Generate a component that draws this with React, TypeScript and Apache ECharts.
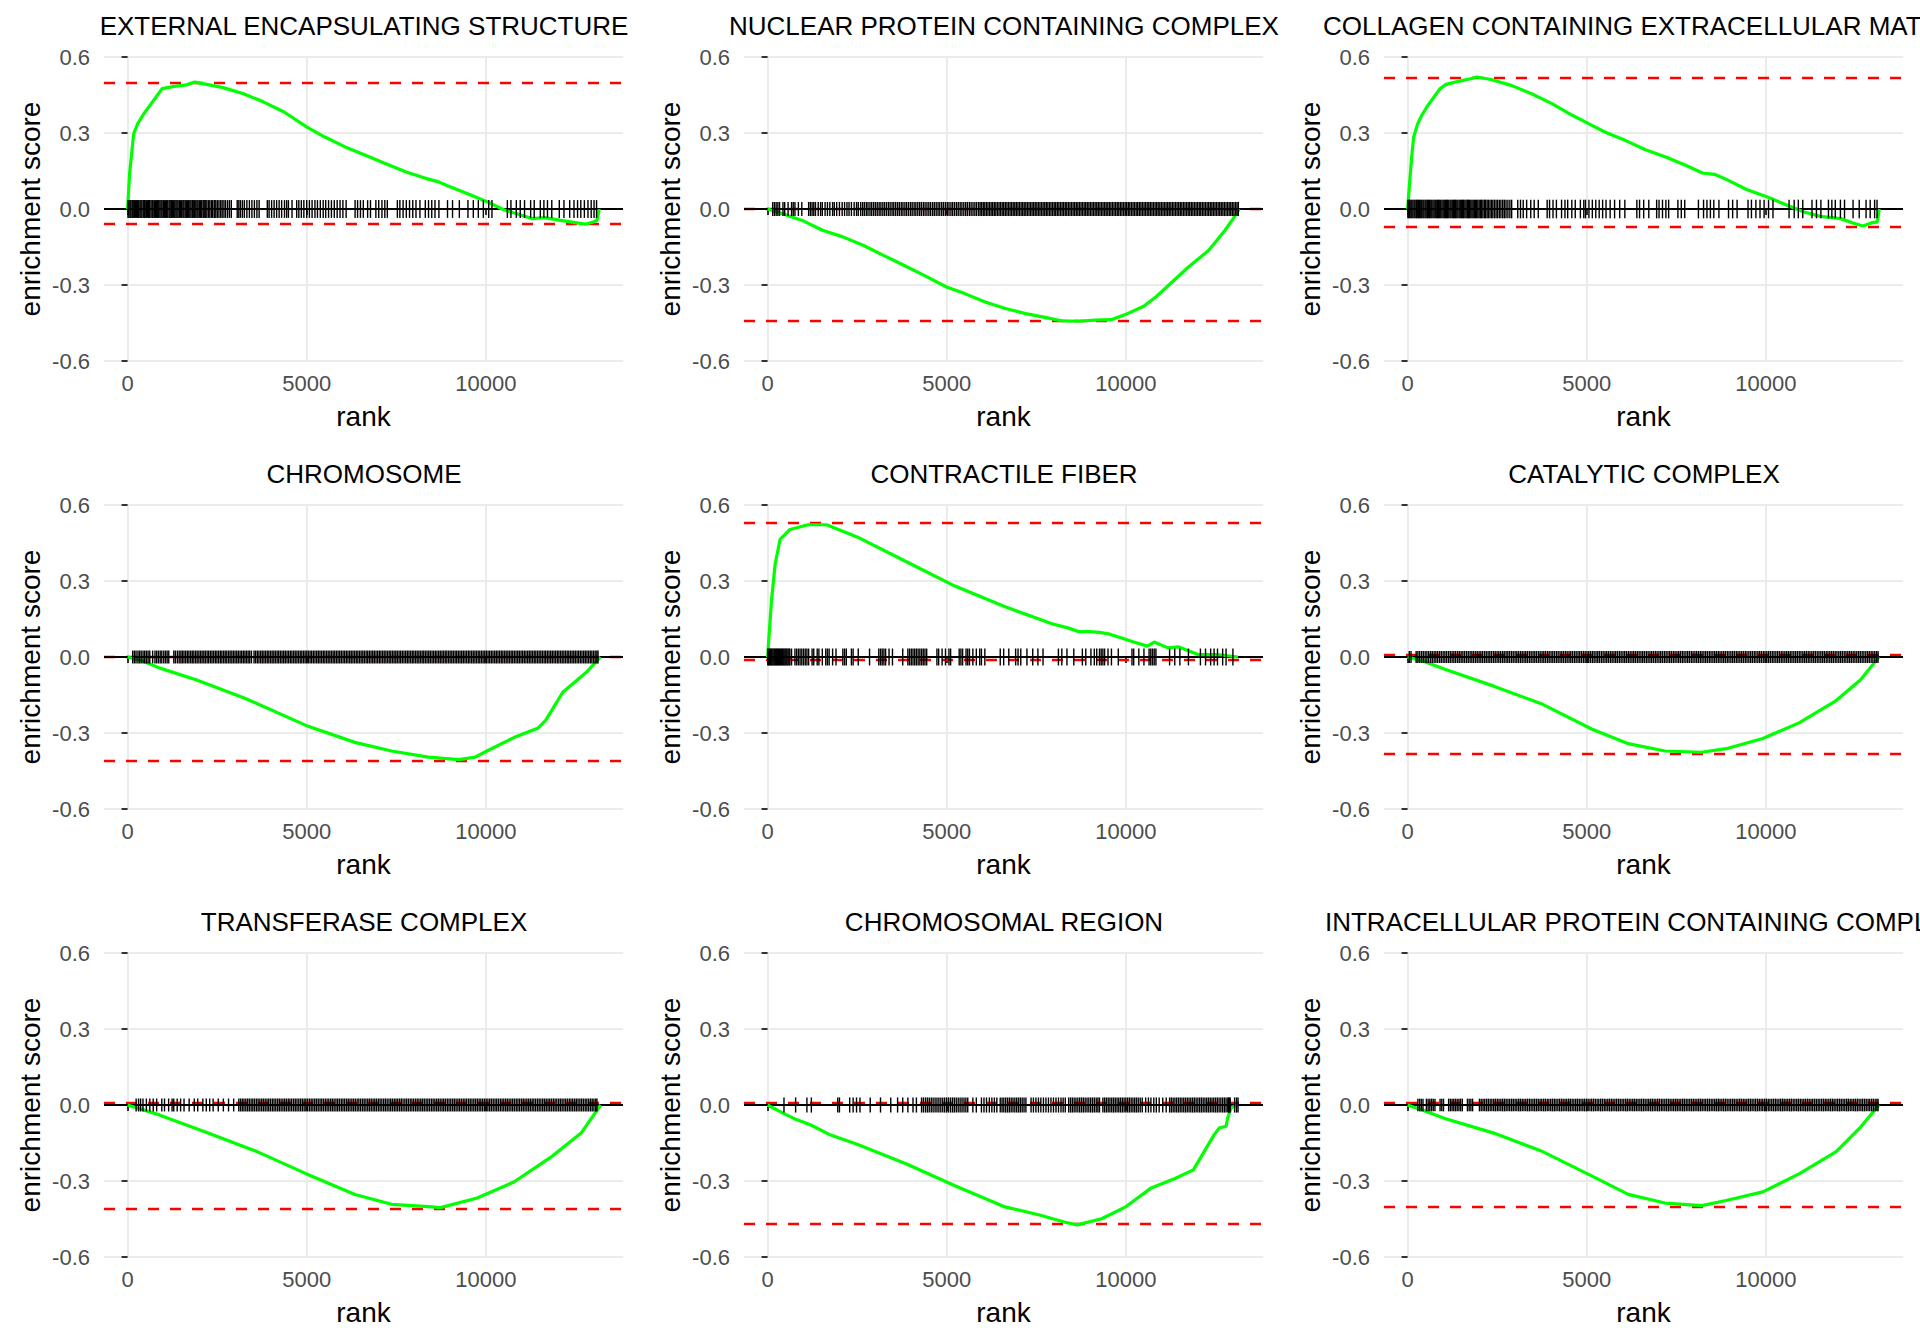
import React, { useEffect, useRef } from "react";
import * as echarts from "echarts";

const FONT = "'Liberation Sans', Arial, Helvetica, sans-serif";

const panelTitles = [
  "EXTERNAL ENCAPSULATING STRUCTURE",
  "NUCLEAR PROTEIN CONTAINING COMPLEX",
  "COLLAGEN CONTAINING EXTRACELLULAR MATRIX",
  "CHROMOSOME",
  "CONTRACTILE FIBER",
  "CATALYTIC COMPLEX",
  "TRANSFERASE COMPLEX",
  "CHROMOSOMAL REGION",
  "INTRACELLULAR PROTEIN CONTAINING COMPLEX",
];

const esMax = [0.501, 0.002, 0.522, 0.002, 0.528, 0.005, 0.005, 0.005, 0.005];
const esMin = [-0.06, -0.443, -0.068, -0.405, -0.007, -0.376, -0.405, -0.473, -0.397];

const xTickValues = [0, 5000, 10000];
const xAxisMin = -658;
const xAxisMax = 13828;
const yAxisMin = -0.6;
const yAxisMax = 0.6;
const yAxisStep = 0.3;

const curveExternal = [[0,0],[57,0.14],[170,0.297],[284,0.337],[454,0.376],[624,0.409],[795,0.442],[965,0.475],[1305,0.484],[1646,0.49],[1873,0.501],[2100,0.495],[2667,0.479],[3235,0.455],[3802,0.422],[4370,0.383],[4994,0.324],[5505,0.284],[6072,0.245],[6640,0.212],[7207,0.179],[7775,0.146],[8342,0.12],[8683,0.107],[8910,0.093],[9477,0.061],[10045,0.028],[10499,-0.003],[10839,-0.018],[11293,-0.038],[11634,-0.034],[12088,-0.045],[12542,-0.055],[12769,-0.06],[12996,-0.051],[13100,-0.045],[13166,0]];
const curveNuclear = [[0,0],[397,-0.018],[965,-0.045],[1532,-0.084],[2100,-0.11],[2667,-0.143],[3235,-0.183],[3802,-0.222],[4370,-0.262],[4994,-0.308],[5505,-0.334],[6072,-0.367],[6640,-0.393],[7207,-0.413],[7775,-0.429],[8229,-0.442],[8683,-0.443],[9137,-0.439],[9591,-0.437],[10045,-0.413],[10499,-0.384],[10839,-0.347],[11293,-0.288],[11747,-0.229],[12315,-0.163],[12769,-0.084],[12996,-0.038],[13166,0]];
const curveCollagen = [[0,0],[114,0.205],[170,0.284],[284,0.337],[397,0.37],[567,0.409],[738,0.442],[908,0.475],[1078,0.492],[1419,0.504],[1759,0.514],[1930,0.521],[2327,0.511],[2894,0.488],[3462,0.455],[4029,0.416],[4597,0.37],[5051,0.337],[5505,0.304],[6072,0.271],[6640,0.234],[7207,0.205],[7775,0.172],[8229,0.142],[8569,0.137],[8910,0.116],[9477,0.076],[10045,0.047],[10612,0.014],[11066,-0.012],[11520,-0.029],[12088,-0.038],[12428,-0.055],[12712,-0.067],[12939,-0.055],[13109,-0.051],[13166,0]];
const curveChromosome = [[0,0],[400,-0.015],[884,-0.043],[1908,-0.09],[3273,-0.163],[4980,-0.27],[6345,-0.337],[7369,-0.371],[8393,-0.395],[9246,-0.405],[9700,-0.395],[10099,-0.366],[10782,-0.318],[11464,-0.28],[11669,-0.25],[12147,-0.139],[12830,-0.057],[13200,0]];
const curveContractile = [[0,0],[109,0.222],[212,0.367],[348,0.464],[621,0.503],[1133,0.522],[1645,0.522],[2498,0.474],[3863,0.377],[5229,0.28],[6594,0.2],[7959,0.13],[8404,0.114],[8690,0.1],[8977,0.1],[9264,0.097],[9550,0.09],[9837,0.077],[10219,0.059],[10600,0.043],[10791,0.059],[11174,0.036],[11460,0.04],[12033,0.009],[12606,0.009],[13131,0]];
const curveCatalytic = [[0,0],[500,-0.02],[1041,-0.048],[2406,-0.115],[3771,-0.187],[5137,-0.284],[6160,-0.342],[7184,-0.371],[8208,-0.376],[8891,-0.362],[9915,-0.322],[10939,-0.259],[11963,-0.172],[12645,-0.09],[13157,0]];
const curveTransferase = [[0,0],[884,-0.039],[2249,-0.111],[3614,-0.184],[4980,-0.271],[6345,-0.353],[7369,-0.392],[8393,-0.401],[8734,-0.405],[9758,-0.367],[10782,-0.304],[11805,-0.207],[12659,-0.111],[13205,0]];
const curveChromosomal = [[0,0],[430,-0.032],[764,-0.055],[1194,-0.078],[1719,-0.116],[2498,-0.155],[3863,-0.232],[5229,-0.319],[6594,-0.401],[7618,-0.435],[8300,-0.463],[8642,-0.473],[9324,-0.449],[10007,-0.401],[10690,-0.329],[11372,-0.29],[11884,-0.256],[12463,-0.118],[12606,-0.091],[12797,-0.084],[12845,-0.05],[12940,-0.01],[13131,0]];
const curveIntracellular = [[0,0],[500,-0.025],[1041,-0.053],[2406,-0.111],[3771,-0.184],[5137,-0.28],[6160,-0.353],[7184,-0.387],[8208,-0.397],[8891,-0.377],[9915,-0.343],[10939,-0.271],[11963,-0.184],[12645,-0.087],[13157,0]];

const ticksExternal = [12,40,71,95,130,158,190,221,248,283,310,345,372,400,437,466,492,530,561,590,618,655,688,712,748,779,805,842,870,903,935,962,998,1030,1061,1090,1122,1160,1188,1220,1255,1283,1318,1350,1379,1410,1448,1476,1510,1545,1572,1608,1640,1675,1702,1738,1770,1806,1833,1870,1905,1938,1966,2003,2040,2071,2110,2140,2182,2215,2260,2296,2340,2375,2420,2462,2505,2550,2598,2640,2690,2735,2790,2842,2895,3060,3105,3150,3205,3260,3330,3400,3470,3540,3610,3672,3900,3950,4020,4090,4160,4230,4300,4380,4440,4490,4590,4720,4780,4850,4920,5000,5075,5150,5230,5300,5380,5460,5530,5610,5690,5770,5850,5930,6010,6100,6350,6420,6500,6580,6700,6780,6930,7010,7100,7180,7250,7530,7600,7690,7780,7870,7960,8050,8160,8310,8400,8490,8580,8690,8930,9070,9260,9500,9650,9790,9930,10080,10170,10600,10700,10850,10960,11080,11250,11350,11520,11620,11720,11840,12050,12180,12340,12460,12560,12650,12750,12850,12940,13020,13090];
const ticksNuclear = [143,191,239,287,334,430,478,573,669,716,764,860,955,1146,1194,1242,1289,1337,1414,1480,1528,1605,1671,1738,1815,1862,1929,2006,2082,2149,2216,2273,2340,2416,2483,2531,2598,2652,2701,2755,2803,2858,2907,2960,3010,3061,3114,3163,3217,3266,3318,3371,3420,3474,3522,3575,3627,3677,3730,3779,3833,3882,3934,3987,4036,4090,4139,4192,4244,4293,4347,4396,4449,4501,4550,4604,4653,4706,4758,4807,4861,4910,4963,5015,5064,5118,5167,5220,5272,5321,5375,5424,5477,5529,5578,5632,5681,5734,5786,5835,5889,5932,5975,6020,6063,6108,6151,6196,6240,6283,6328,6371,6416,6460,6503,6548,6591,6636,6680,6723,6768,6811,6856,6900,6943,6988,7031,7076,7120,7163,7208,7251,7296,7340,7383,7428,7471,7516,7560,7603,7648,7691,7736,7780,7823,7868,7911,7956,8000,8043,8088,8131,8176,8220,8263,8308,8351,8396,8440,8483,8528,8571,8616,8660,8703,8748,8791,8836,8880,8923,8968,9011,9056,9100,9143,9188,9231,9276,9320,9363,9408,9451,9496,9540,9583,9628,9671,9716,9760,9803,9848,9891,9936,9980,10023,10068,10111,10156,10200,10243,10288,10331,10376,10420,10463,10508,10551,10596,10640,10683,10728,10771,10816,10860,10903,10948,10991,11036,11080,11123,11168,11211,11256,11300,11343,11388,11431,11476,11520,11563,11608,11651,11696,11740,11783,11828,11871,11916,11960,12003,12048,12091,12136,12180,12223,12268,12311,12356,12400,12443,12488,12531,12576,12620,12663,12708,12751,12796,12840,12883,12928,12971,13016,13060,13103,13140];
const ticksCollagen = [8,33,60,92,118,150,183,210,246,270,305,333,368,395,428,455,490,518,552,580,615,648,676,709,740,772,800,836,865,898,926,960,992,1024,1055,1088,1118,1150,1185,1213,1247,1280,1310,1342,1375,1404,1440,1470,1502,1536,1565,1600,1633,1668,1696,1730,1765,1798,1830,1862,1898,1930,1962,1998,2035,2068,2104,2145,2178,2220,2255,2300,2342,2380,2425,2470,2512,2560,2605,2655,2700,2748,2800,2855,2905,3075,3152,3228,3323,3438,3534,3648,3896,3963,4059,4154,4298,4393,4469,4584,4680,4823,4918,4966,5062,5157,5253,5348,5444,5539,5654,5778,5921,6064,6399,6475,6590,6733,6952,7019,7115,7210,7287,7545,7640,7736,8118,8261,8356,8452,8547,8690,8958,9073,9197,9502,9598,9722,9837,9951,10075,10199,10648,10791,10906,11030,11288,11412,11536,11747,11842,11938,12081,12196,12434,12606,12797,12912,13036,13103];
const ticksChromosome = [143,190,236,290,335,380,432,478,525,572,620,700,765,812,860,910,955,1010,1058,1104,1150,1290,1335,1390,1440,1488,1530,1575,1622,1668,1712,1760,1805,1850,1898,1942,1990,2036,2080,2128,2172,2220,2264,2312,2356,2402,2450,2494,2540,2588,2632,2680,2725,2770,2818,2862,2910,2955,3000,3048,3092,3140,3185,3232,3276,3320,3365,3410,3458,3530,3575,3622,3667,3714,3759,3806,3851,3898,3943,3990,4035,4082,4127,4174,4219,4266,4311,4358,4403,4450,4495,4542,4587,4634,4679,4726,4771,4818,4863,4910,4955,5002,5047,5094,5139,5186,5231,5278,5323,5370,5415,5462,5507,5554,5599,5646,5691,5738,5783,5830,5875,5922,5967,6014,6059,6106,6151,6198,6243,6290,6335,6382,6427,6474,6519,6566,6611,6658,6703,6750,6795,6842,6887,6934,6979,7026,7071,7118,7163,7210,7255,7302,7347,7394,7439,7486,7531,7578,7623,7670,7715,7762,7807,7854,7899,7946,7991,8038,8083,8130,8175,8222,8267,8314,8359,8406,8451,8498,8543,8590,8635,8682,8727,8774,8819,8866,8911,8958,9003,9050,9095,9142,9187,9234,9279,9326,9371,9418,9463,9510,9555,9602,9647,9694,9739,9786,9831,9878,9923,9970,10015,10062,10107,10154,10199,10246,10291,10338,10383,10430,10475,10522,10567,10614,10659,10706,10751,10798,10843,10890,10935,10982,11027,11074,11119,11166,11211,11258,11303,11350,11395,11442,11487,11534,11579,11626,11671,11718,11763,11810,11855,11902,11947,11994,12039,12086,12131,12178,12223,12270,12315,12362,12407,12454,12499,12546,12591,12638,12683,12730,12775,12822,12867,12914,12959,13006,13051,13098,13131];
const ticksContractile = [5,30,52,80,101,125,150,178,200,228,255,280,306,330,358,385,410,436,462,490,515,540,570,598,621,669,764,812,860,907,955,1003,1051,1098,1146,1242,1289,1385,1433,1528,1624,1671,1719,1815,1910,2101,2149,2197,2340,2388,2531,2846,3104,3152,3199,3247,3295,3390,3486,3772,3916,3963,4011,4059,4107,4154,4202,4250,4298,4345,4393,4441,4727,4775,4871,4966,5062,5109,5348,5396,5444,5539,5587,5635,5730,5826,5921,5969,6064,6494,6590,6733,6924,6991,7067,7239,7401,7545,7688,8118,8213,8356,8547,8786,8882,9025,9120,9187,9264,9311,9359,9407,9502,9598,9789,10171,10219,10362,10505,10648,10696,10744,10791,10839,11221,11365,11508,11747,12081,12224,12367,12463,12558,12702,12797,12988];
const ticksCatalytic = [48,96,239,288,337,389,438,490,539,588,640,689,741,790,839,891,940,992,1041,1090,1142,1191,1243,1292,1341,1393,1442,1494,1543,1592,1644,1693,1745,1794,1843,1895,1944,1996,2045,2094,2146,2195,2247,2296,2345,2397,2446,2498,2547,2596,2648,2697,2749,2798,2847,2899,2948,3000,3049,3098,3150,3199,3251,3300,3349,3401,3450,3502,3551,3600,3652,3701,3753,3802,3851,3903,3952,4004,4053,4102,4154,4203,4255,4304,4353,4405,4454,4506,4555,4604,4656,4705,4757,4806,4855,4907,4956,5008,5057,5106,5158,5207,5259,5308,5357,5409,5458,5510,5559,5608,5660,5709,5761,5810,5859,5911,5960,6012,6061,6110,6162,6211,6263,6312,6361,6413,6462,6514,6563,6612,6664,6713,6765,6814,6863,6915,6964,7016,7065,7114,7166,7215,7267,7316,7365,7417,7466,7518,7567,7616,7668,7717,7769,7818,7867,7919,7968,8020,8069,8118,8170,8219,8271,8320,8369,8421,8470,8522,8571,8620,8672,8721,8773,8822,8871,8923,8972,9024,9073,9122,9174,9223,9275,9324,9373,9425,9474,9526,9575,9624,9676,9725,9777,9826,9875,9927,9976,10028,10077,10126,10178,10227,10279,10328,10377,10429,10478,10530,10579,10628,10680,10729,10781,10830,10879,10931,10980,11032,11081,11130,11182,11231,11283,11332,11381,11433,11482,11534,11583,11632,11684,11733,11785,11834,11883,11935,11984,12036,12085,12134,12186,12235,12287,12336,12385,12437,12486,12538,12587,12636,12688,12737,12789,12838,12887,12939,12988,13040,13089,13131];
const ticksTransferase = [239,306,363,430,525,621,716,812,955,1031,1146,1242,1289,1385,1480,1576,1719,1862,1958,2101,2197,2292,2388,2531,2674,2818,2961,3104,3152,3201,3249,3300,3348,3397,3448,3496,3545,3596,3644,3693,3744,3792,3841,3892,3940,3989,4040,4088,4137,4188,4236,4285,4336,4384,4433,4484,4532,4581,4632,4680,4729,4780,4828,4877,4928,4976,5025,5076,5124,5173,5224,5272,5321,5372,5420,5469,5520,5568,5617,5668,5716,5765,5816,5864,5913,5964,6012,6061,6112,6160,6209,6260,6308,6357,6408,6456,6505,6556,6604,6653,6704,6752,6801,6852,6900,6949,7000,7048,7097,7148,7196,7245,7296,7344,7393,7444,7492,7541,7592,7640,7689,7740,7788,7837,7888,7936,7985,8036,8084,8133,8184,8232,8281,8332,8380,8429,8480,8528,8577,8628,8676,8725,8776,8824,8873,8924,8972,9021,9072,9120,9169,9220,9268,9317,9368,9416,9465,9516,9564,9613,9664,9712,9761,9812,9860,9909,9960,10008,10057,10108,10156,10205,10256,10304,10353,10404,10452,10501,10552,10600,10649,10700,10748,10797,10848,10896,10945,10996,11044,11093,11144,11192,11241,11292,11340,11389,11440,11488,11537,11588,11636,11685,11736,11784,11833,11884,11932,11981,12032,12080,12129,12180,12228,12277,12328,12376,12425,12476,12524,12573,12624,12672,12721,12772,12820,12869,12920,12968,13017,13068,13100];
const ticksChromosomal = [458,783,1098,1222,1958,2006,2292,2388,2483,2579,2865,3152,3438,3629,3772,3916,4059,4154,4298,4350,4407,4460,4512,4568,4620,4675,4728,4782,4836,4890,4943,4998,5050,5105,5160,5212,5266,5320,5374,5428,5482,5535,5587,5730,5826,5969,6040,6110,6190,6260,6330,6399,6494,6545,6594,6646,6697,6748,6799,6850,6902,6953,7004,7055,7106,7158,7210,7354,7420,7490,7560,7628,7700,7770,7840,7910,7980,8050,8120,8190,8250,8309,8404,8455,8506,8557,8608,8660,8711,8762,8813,8864,8916,8967,9018,9069,9120,9172,9220,9264,9359,9408,9458,9507,9556,9606,9655,9704,9754,9803,9852,9902,9951,10000,10050,10099,10148,10198,10247,10296,10346,10400,10457,10553,10630,10700,10780,10850,10930,11030,11126,11221,11270,11320,11369,11418,11468,11517,11566,11616,11665,11714,11764,11813,11862,11912,11961,12010,12060,12109,12158,12208,12257,12306,12356,12405,12454,12504,12553,12602,12652,12701,12750,12797,12845,12870,12890,12912,13036,13090,13131];
const ticksIntracellular = [287,335,382,430,525,573,621,669,716,764,907,955,1003,1146,1194,1242,1289,1337,1385,1433,1480,1528,1671,1719,1767,1815,2006,2055,2106,2154,2205,2254,2305,2353,2404,2453,2504,2552,2603,2652,2703,2751,2802,2851,2902,2950,3001,3050,3101,3149,3200,3249,3300,3348,3399,3448,3499,3547,3598,3647,3698,3746,3797,3846,3897,3945,3996,4045,4096,4144,4195,4244,4295,4343,4394,4443,4494,4542,4593,4642,4693,4741,4792,4841,4892,4940,4991,5040,5091,5139,5190,5239,5290,5338,5389,5438,5489,5537,5588,5637,5688,5736,5787,5836,5887,5935,5986,6035,6086,6134,6185,6234,6285,6333,6384,6433,6484,6532,6583,6632,6683,6731,6782,6831,6882,6930,6981,7030,7081,7129,7180,7229,7280,7328,7379,7428,7479,7527,7578,7627,7678,7726,7777,7826,7877,7925,7976,8025,8076,8124,8175,8224,8275,8323,8374,8423,8474,8522,8573,8622,8673,8721,8772,8821,8872,8920,8971,9020,9071,9119,9170,9219,9270,9318,9369,9418,9469,9517,9568,9617,9668,9716,9767,9816,9867,9915,9966,10015,10066,10114,10165,10214,10265,10313,10364,10413,10464,10512,10563,10612,10663,10711,10762,10811,10862,10910,10961,11010,11061,11109,11160,11209,11260,11308,11359,11408,11459,11507,11558,11607,11658,11706,11757,11806,11857,11905,11956,12005,12056,12104,12155,12204,12255,12303,12354,12403,12454,12502,12553,12602,12653,12701,12752,12801,12852,12900,12951,13000,13051,13099,13131];

const curves = [curveExternal, curveNuclear, curveCollagen, curveChromosome, curveContractile, curveCatalytic, curveTransferase, curveChromosomal, curveIntracellular];
const tickSets = [ticksExternal, ticksNuclear, ticksCollagen, ticksChromosome, ticksContractile, ticksCatalytic, ticksTransferase, ticksChromosomal, ticksIntracellular];

// layout (pixels)
const CELL_W = 640;
const CELL_H = 448;
const GRID_LEFT = 104;
const GRID_TOP = 57;
const GRID_W = 519;
const GRID_H = 304;

function buildOption() {
  const grid: any[] = [];
  const xAxis: any[] = [];
  const yAxis: any[] = [];
  const series: any[] = [];
  const graphic: any[] = [];

  panelTitles.forEach((title, i) => {
    const col = i % 3;
    const row = Math.floor(i / 3);
    grid.push({
      left: GRID_LEFT + CELL_W * col,
      top: GRID_TOP + CELL_H * row,
      width: GRID_W,
      height: GRID_H,
      containLabel: false,
      outerBoundsMode: "none",
    });
    xAxis.push({
      type: "value",
      gridIndex: i,
      min: xAxisMin,
      max: xAxisMax,
      axisLine: { show: false },
      axisTick: {
        show: true,
        customValues: xTickValues,
        length: 6,
        lineStyle: { color: "#333333", width: 2 },
      },
      axisLabel: {
        customValues: xTickValues,
        fontSize: 22,
        color: "#4D4D4D",
        fontFamily: FONT,
        margin: 11,
        formatter: (v: number) => String(Math.round(v)),
      },
      splitLine: { show: true, lineStyle: { color: "#EBEBEB", width: 2 } },
      name: "rank",
      nameLocation: "middle",
      nameGap: 41,
      nameTextStyle: { fontSize: 28, color: "#000000", fontFamily: FONT },
    });
    yAxis.push({
      type: "value",
      gridIndex: i,
      min: yAxisMin,
      max: yAxisMax,
      interval: yAxisStep,
      axisLine: { show: false },
      axisTick: { show: true, length: 6, lineStyle: { color: "#333333", width: 2 } },
      axisLabel: {
        fontSize: 22,
        color: "#4D4D4D",
        fontFamily: FONT,
        margin: 14,
        formatter: (v: number) => (Math.abs(v) < 1e-9 ? "0.0" : v.toFixed(1)),
      },
      splitLine: { show: true, lineStyle: { color: "#EBEBEB", width: 2 } },
      name: "enrichment score",
      nameLocation: "middle",
      nameGap: 60,
      nameRotate: 90,
      nameTextStyle: { fontSize: 28, color: "#000000", fontFamily: FONT },
    });

    // reference lines: max ES, min ES (red dashed) and zero (black)
    series.push({
      type: "line",
      xAxisIndex: i,
      yAxisIndex: i,
      data: [],
      silent: true,
      markLine: {
        silent: true,
        symbol: "none",
        z: 2,
        label: { show: false },
        animation: false,
        data: [
          { yAxis: esMax[i], lineStyle: { color: "#FF0000", width: 2.4, type: [11, 11] } },
          { yAxis: esMin[i], lineStyle: { color: "#FF0000", width: 2.4, type: [11, 11] } },
          { yAxis: 0, lineStyle: { color: "#000000", width: 2.2, type: "solid" } },
        ],
      },
    });

    // running enrichment score
    series.push({
      type: "line",
      xAxisIndex: i,
      yAxisIndex: i,
      data: curves[i],
      showSymbol: false,
      symbol: "none",
      silent: true,
      z: 3,
      lineStyle: { color: "#00FF00", width: 3.2 },
    });

    // gene hit ticks
    const half = (esMax[i] - esMin[i]) / 16;
    series.push({
      type: "custom",
      xAxisIndex: i,
      yAxisIndex: i,
      silent: true,
      z: 4,
      data: tickSets[i].map((t) => [t, 0]),
      encode: { x: 0, y: 1 },
      renderItem: (_params: any, api: any) => {
        const x = api.value(0);
        const a = api.coord([x, half]);
        const b = api.coord([x, -half]);
        return {
          type: "line",
          shape: { x1: a[0], y1: a[1], x2: b[0], y2: b[1] },
          style: { stroke: "#000000", lineWidth: 1.4 },
          silent: true,
        };
      },
    });

    graphic.push({
      type: "text",
      x: 364 + CELL_W * col,
      y: 26 + CELL_H * row,
      silent: true,
      style: {
        text: title,
        fontSize: 26,
        fontFamily: FONT,
        fill: "#000000",
        align: "center",
        verticalAlign: "middle",
        textAlign: "center",
        textVerticalAlign: "middle",
      },
    });
  });

  return {
    animation: false,
    backgroundColor: "#FFFFFF",
    textStyle: { fontFamily: FONT },
    grid,
    xAxis,
    yAxis,
    series,
    graphic,
  };
}

export default function App() {
  const ref = useRef<HTMLDivElement>(null);
  useEffect(() => {
    if (!ref.current) return;
    const chart = echarts.init(ref.current, null, { renderer: "svg" });
    chart.setOption(buildOption() as any);
    return () => chart.dispose();
  }, []);
  return (
    <div
      ref={ref}
      style={{ position: "absolute", left: 0, top: 0, width: 1920, height: 1344, background: "#FFFFFF" }}
    />
  );
}
